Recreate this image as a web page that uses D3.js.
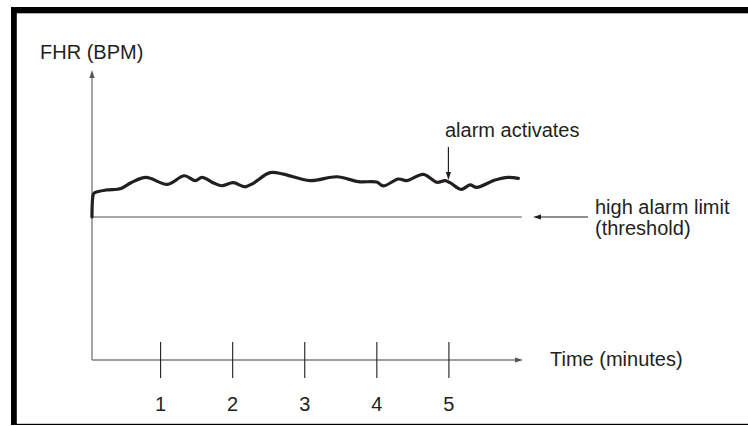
<!DOCTYPE html>
<html>
<head>
<meta charset="utf-8">
<script src="https://cdn.jsdelivr.net/npm/d3@7"></script>
<style>
  html, body { margin: 0; padding: 0; background: #fff; }
  svg { display: block; }
  text { font-family: "Liberation Sans", Arial, Helvetica, sans-serif; fill: #231f20; }
</style>
</head>
<body>
<svg id="chart" width="748" height="426"></svg>
<script>
// ---- data ----
const timeMinutes = [0.055, 0.076, 0.097, 0.250, 0.458, 0.597, 0.805, 1.103, 1.336, 1.489, 1.582, 1.752, 1.855, 2.016, 2.178, 2.293, 2.525, 2.709, 3.080, 3.454, 3.750, 4.005, 4.097, 4.305, 4.422, 4.652, 4.838, 4.953, 5.022, 5.175, 5.300, 5.393, 5.647, 5.831, 5.970];
const fhrBpm = [160, 171.3, 172.0, 173.2, 174.0, 176.8, 179.4, 176.0, 180.2, 177.8, 179.4, 176.5, 175.3, 176.8, 174.8, 176.5, 181.7, 181.0, 177.8, 179.7, 177.3, 177.1, 175.2, 178.6, 177.8, 180.9, 177.0, 177.8, 176.8, 173.5, 175.7, 174.5, 178.1, 179.4, 178.9];
const tickValues = [1, 2, 3, 4, 5];
const tickLabels = ["1", "2", "3", "4", "5"];
const thresholdBpm = 160;
const alarmTime = 5;
const yAxisTitle = "FHR (BPM)";
const xAxisTitle = "Time (minutes)";
const alarmLabel = "alarm activates";
const thresholdLabel = ["high alarm limit", "(threshold)"];

// ---- layout ----
const svg = d3.select("#chart");
const x = d3.scaleLinear().domain([0, 6]).range([88, 520.5]);
const y = d3.scaleLinear().domain([90, 200]).range([360, 135.3]);
const axisY = 360, axisX = 92;
const axisColor = "#7f7f7f";
const ink = "#231f20";

// frame
svg.append("rect").attr("x", 11).attr("y", 7).attr("width", 737).attr("height", 6.3).attr("fill", "#000");
svg.append("rect").attr("x", 11).attr("y", 7).attr("width", 5.8).attr("height", 418).attr("fill", "#000");
svg.append("rect").attr("x", 11).attr("y", 423.8).attr("width", 737).attr("height", 1.2).attr("fill", "#000");

function arrowHead(g, tipX, tipY, dir, len, half, color) {
  let pts;
  if (dir === "up") pts = [[tipX, tipY], [tipX - half, tipY + len], [tipX + half, tipY + len]];
  else if (dir === "down") pts = [[tipX, tipY], [tipX - half, tipY - len], [tipX + half, tipY - len]];
  else if (dir === "right") pts = [[tipX, tipY], [tipX - len, tipY - half], [tipX - len, tipY + half]];
  else pts = [[tipX, tipY], [tipX + len, tipY - half], [tipX + len, tipY + half]];
  g.append("polygon").attr("points", pts.map(p => p.join(",")).join(" ")).attr("fill", color);
}

const g = svg.append("g");

// y axis line + arrow
g.append("line").attr("x1", axisX).attr("x2", axisX).attr("y1", axisY).attr("y2", 74)
  .attr("stroke", axisColor).attr("stroke-width", 1.4);
arrowHead(g, axisX, 70, "up", 8, 2.6, "#555");

// x axis line + arrow
g.append("line").attr("x1", axisX).attr("x2", 518).attr("y1", axisY).attr("y2", axisY)
  .attr("stroke", axisColor).attr("stroke-width", 1.4);
arrowHead(g, 523, axisY, "right", 8, 2.6, "#555");

// x ticks via d3 axis
const xAxis = d3.axisBottom(x).tickValues(tickValues).tickFormat((d, i) => tickLabels[i]).tickSize(18);
const ax = g.append("g").attr("transform", `translate(0,${axisY})`).call(xAxis);
ax.select(".domain").remove();
ax.selectAll(".tick line").attr("y1", -18).attr("y2", 18).attr("stroke", ink).attr("stroke-width", 1.1);
ax.selectAll(".tick text").attr("y", 37).attr("dy", "0.71em")
  .style("font-family", '"Liberation Sans", Arial, sans-serif').style("font-size", "20px").attr("fill", ink);

// threshold line
g.append("line").attr("x1", axisX).attr("x2", 521.7).attr("y1", y(thresholdBpm)).attr("y2", y(thresholdBpm))
  .attr("stroke", "#8a8a8a").attr("stroke-width", 1.7);

// FHR trace
const line = d3.line().x((d, i) => x(timeMinutes[i])).y(d => y(d)).curve(d3.curveCatmullRom.alpha(0.5));
g.append("path").attr("d", line(fhrBpm)).attr("fill", "none").attr("stroke", ink)
  .attr("stroke-width", 3.2).attr("stroke-linejoin", "round").attr("stroke-linecap", "round");

// titles
g.append("text").attr("x", 40).attr("y", 59).style("font-size", "20px").text(yAxisTitle);
g.append("text").attr("x", 550).attr("y", 366).style("font-size", "20px").text(xAxisTitle);

// alarm annotation
const ax5 = x(alarmTime);
g.append("text").attr("x", 445).attr("y", 137).style("font-size", "20px").text(alarmLabel);
g.append("line").attr("x1", ax5).attr("x2", ax5).attr("y1", 147).attr("y2", 174)
  .attr("stroke", ink).attr("stroke-width", 1.2);
arrowHead(g, ax5, 180, "down", 8, 2.6, ink);

// threshold annotation
const ty = y(thresholdBpm);
g.append("line").attr("x1", 588).attr("x2", 539).attr("y1", ty).attr("y2", ty)
  .attr("stroke", ink).attr("stroke-width", 1.2);
arrowHead(g, 533, ty, "left", 8, 2.6, ink);
g.append("text").attr("x", 595).attr("y", 214).style("font-size", "20px").text(thresholdLabel[0]);
g.append("text").attr("x", 595).attr("y", 235).style("font-size", "20px").text(thresholdLabel[1]);
</script>
</body>
</html>
